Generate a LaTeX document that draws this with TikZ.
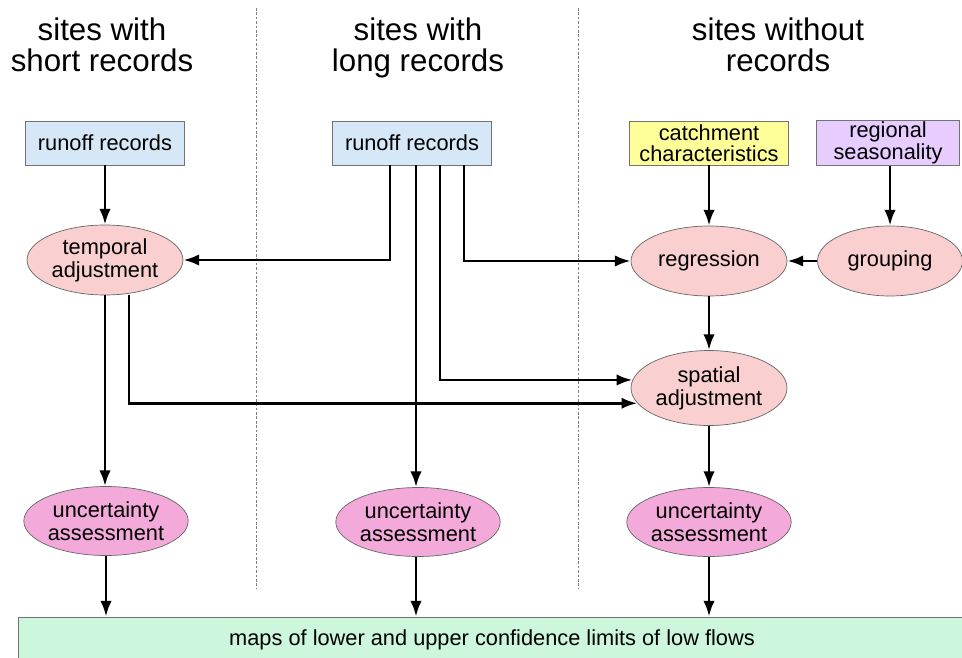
\documentclass[tikz,border=0pt]{standalone}
\usepackage{fontspec}
\setmainfont{Liberation Sans}
\usetikzlibrary{arrows.meta,shapes.geometric}

\definecolor{recblue}{HTML}{D6E8F8}
\definecolor{catyellow}{HTML}{FFFF99}
\definecolor{seaslilac}{HTML}{E6CCFF}
\definecolor{adjpink}{HTML}{F9CFCF}
\definecolor{uncpink}{HTML}{F3AADA}
\definecolor{mapgreen}{HTML}{CCF7DC}

\begin{document}
\begin{tikzpicture}[x=0.02cm, y=-0.02cm,
    box/.style={draw=black!55, thin, minimum width=3.18cm, minimum height=0.88cm,
        inner sep=1pt, align=center, font=\fontsize{12.4}{12.2}\selectfont},
    proc/.style={ellipse, draw=black!60, thin, fill=adjpink, minimum width=3.12cm,
        minimum height=1.4cm, inner sep=0pt, align=center,
        font=\fontsize{12.4}{13}\selectfont},
    unc/.style={proc, fill=uncpink, minimum width=3.05cm, minimum height=1.38cm},
    head/.style={anchor=north, align=center, font=\fontsize{17.8}{17.6}\selectfont},
    sep/.style={draw=black!50, line width=0.5pt, dash pattern=on 1.5pt off 1pt},
    arr/.style={-{Latex[length=9pt,width=6.5pt]}, line width=1.6pt}]

    \useasboundingbox (0,0) rectangle (962,658);

    % Spaltentrenner
    \draw[sep] (256,8) -- (256,588);
    \draw[sep] (578,8) -- (578,588);

    % Spaltenkoepfe
    \node[head] (hshort) at (102,12) {sites with\\short records};
    \node[head] (hlong)  at (418,12) {sites with\\long records};
    \node[head] (hnone)  at (778,12) {sites without\\records};

    % Eingangsdaten
    \node[box, fill=recblue] (rec1) at (105,143) {runoff records};
    \node[box, fill=recblue] (rec2) at (412,143) {runoff records};
    \node[box, fill=catyellow] (catch) at (709,143) {catchment\\characteristics};
    \node[box, fill=seaslilac, minimum width=2.86cm] (season) at (888,143) {regional\\seasonality};

    % Verarbeitung
    \node[proc] (temporal) at (105,260) {temporal\\adjustment};
    \node[proc] (regress)  at (709,261) {regression};
    \node[proc, minimum width=2.9cm] (group) at (890,261) {grouping};
    \node[proc, minimum height=1.5cm] (spatial) at (709,388) {spatial\\adjustment};

    % Unsicherheit
    \node[unc] (unc1) at (106,521) {uncertainty\\assessment};
    \node[unc] (unc2) at (418,522) {uncertainty\\assessment};
    \node[unc] (unc3) at (709,522) {uncertainty\\assessment};

    % Ergebnis
    \node[draw=black!55, thin, fill=mapgreen, minimum width=18.96cm, minimum height=0.92cm,
        font=\fontsize{12.4}{13}\selectfont] (maps) at (492,640)
        {maps of lower and upper confidence limits of low flows};

    % Abzweige am langen Datensatz
    \coordinate (tapA) at ([xshift=-0.44cm]rec2.south);
    \coordinate (tapB) at ([xshift=0.08cm]rec2.south);
    \coordinate (tapC) at ([xshift=0.56cm]rec2.south);
    \coordinate (tapD) at ([xshift=1.04cm]rec2.south);
    \coordinate (tapT) at ([xshift=0.48cm]temporal.south);

    % Pfeile
    \draw[arr] (rec1) -- (temporal);
    \draw[arr] (tapA) |- (temporal.east);
    \draw[arr] (tapB) -- (tapB |- unc2.north);
    \draw[arr] (tapC) |- (spatial.174);
    \draw[arr] (tapD) |- (regress.west);
    \draw[arr] (catch) -- (catch |- regress.north);
    \draw[arr] (season.south -| group.north) -- (group);
    \draw[arr] (group) -- (regress);
    \draw[arr] (regress) -- (spatial);
    \draw[arr] (spatial) -- (unc3);
    \draw[arr] (temporal) -- (temporal |- unc1.north);
    \draw[arr] (tapT) |- (spatial.192);
    \draw[arr] (unc1) -- (unc1 |- maps.north);
    \draw[arr] (unc2.south -| tapB) -- (tapB |- maps.north);
    \draw[arr] (unc3) -- (unc3 |- maps.north);
\end{tikzpicture}
\end{document}
